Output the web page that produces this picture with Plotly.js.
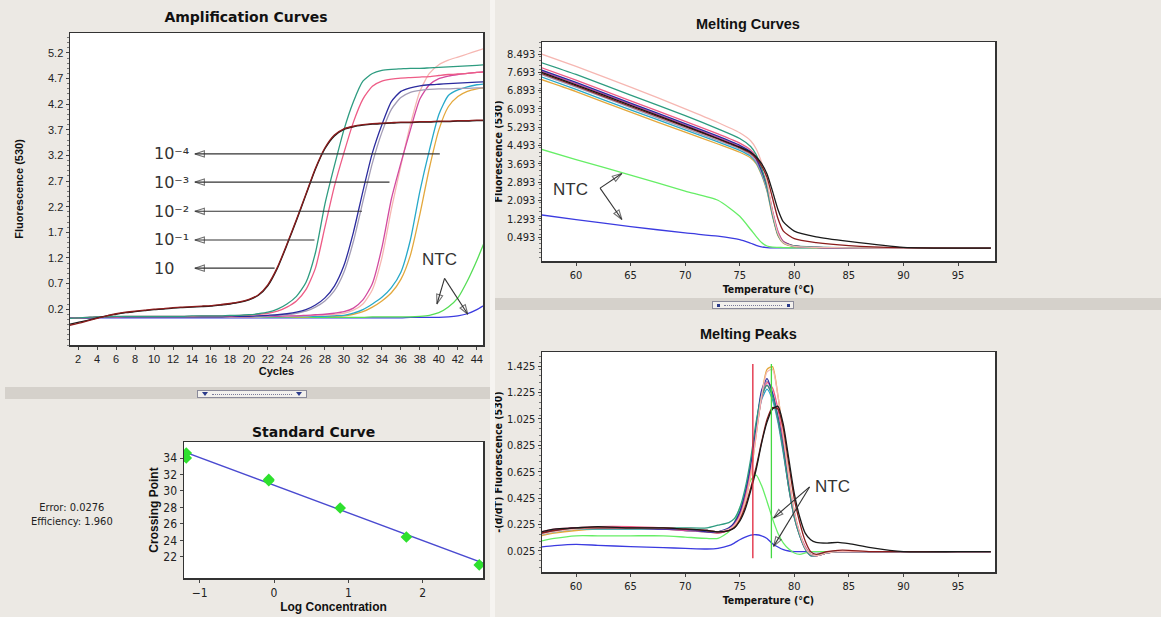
<!DOCTYPE html>
<html><head><meta charset="utf-8">
<script src="https://cdn.plot.ly/plotly-3.0.1.min.js"></script>
<style>
html,body{margin:0;padding:0;background:#ECE9E4;}
#wrap{position:relative;width:1161px;height:617px;}
#chart{width:1161px;height:617px;}
.deco{position:absolute;box-sizing:border-box;}
.bar{background:#D5D1CB;}
.vbar{background:#F6F4F1;}
.btn{background:#F2F0EC;border:1px solid #8A8A9A;}
.dots{border-top:1px dotted #7A7A9A;}
.tri{width:0;height:0;border-left:3px solid transparent;border-right:3px solid transparent;border-top:4px solid #2A3A8A;}
.sq{width:3px;height:3px;background:#2A3A8A;}
</style>
</head><body><div id="wrap"><div id="chart"></div>
<div class="deco vbar" style="left:490px;top:0;width:5px;height:617px;"></div>
<div class="deco bar" style="left:5px;top:387px;width:485px;height:12px;"></div>
<div class="deco btn" style="left:197px;top:390px;width:110px;height:8px;"></div>
<div class="deco dots" style="left:212px;top:394px;width:80px;height:1px;"></div>
<div class="deco tri" style="left:202px;top:392px;"></div>
<div class="deco tri" style="left:296px;top:392px;"></div>
<div class="deco bar" style="left:495px;top:298px;width:666px;height:12px;"></div>
<div class="deco btn" style="left:712px;top:301px;width:82px;height:8px;"></div>
<div class="deco dots" style="left:724px;top:305px;width:58px;height:1px;"></div>
<div class="deco sq" style="left:717px;top:304px;"></div>
<div class="deco sq" style="left:787px;top:304px;"></div>
</div><script>
// ---------- Amplification curves (cycles 1..45) ----------
const cycles = [1,2,3,4,5,6,7,8,9,10,11,12,13,14,15,16,17,18,19,20,21,22,23,24,25,26,27,28,29,30,31,32,33,34,35,36,37,38,39,40,41,42,43,44,45];
const ampDarkRed = [-0.12,-0.08,-0.03,0.02,0.07,0.11,0.14,0.16,0.18,0.2,0.21,0.23,0.24,0.25,0.26,0.27,0.29,0.31,0.34,0.39,0.48,0.68,1.02,1.47,1.95,2.45,2.95,3.35,3.6,3.72,3.77,3.8,3.82,3.83,3.84,3.85,3.85,3.86,3.86,3.87,3.87,3.88,3.88,3.89,3.89];
const ampBlack = [-0.1,-0.06,-0.02,0.03,0.07,0.1,0.13,0.15,0.17,0.19,0.2,0.22,0.23,0.24,0.25,0.26,0.28,0.3,0.33,0.38,0.47,0.66,1.0,1.45,1.93,2.43,2.93,3.33,3.58,3.71,3.76,3.79,3.81,3.82,3.83,3.84,3.84,3.85,3.85,3.86,3.86,3.87,3.87,3.88,3.88];
const ampTeal = [0.02,0.03,0.04,0.05,0.05,0.06,0.06,0.06,0.06,0.06,0.06,0.06,0.06,0.07,0.07,0.07,0.07,0.08,0.08,0.09,0.11,0.14,0.2,0.3,0.45,0.72,1.3,2.25,3.0,3.7,4.25,4.65,4.8,4.86,4.88,4.89,4.9,4.9,4.91,4.92,4.93,4.94,4.95,4.96,4.97];
const ampSalmon = [0.02,0.03,0.04,0.05,0.05,0.05,0.06,0.06,0.06,0.06,0.06,0.06,0.06,0.06,0.07,0.07,0.07,0.07,0.08,0.08,0.1,0.12,0.16,0.24,0.36,0.58,1.0,1.8,2.6,3.25,3.85,4.3,4.55,4.65,4.69,4.71,4.72,4.73,4.74,4.76,4.78,4.79,4.8,4.82,4.83];
const ampNavy = [0.02,0.03,0.03,0.04,0.04,0.05,0.05,0.05,0.05,0.05,0.05,0.05,0.05,0.05,0.05,0.05,0.05,0.06,0.06,0.06,0.07,0.08,0.09,0.11,0.14,0.19,0.28,0.42,0.65,1.05,1.7,2.5,3.25,3.8,4.25,4.45,4.52,4.56,4.58,4.59,4.6,4.61,4.62,4.63,4.64];
const ampGray = [0.02,0.03,0.03,0.04,0.04,0.05,0.05,0.05,0.05,0.05,0.05,0.05,0.05,0.05,0.05,0.05,0.05,0.05,0.06,0.06,0.06,0.07,0.08,0.09,0.12,0.16,0.24,0.36,0.56,0.92,1.52,2.3,3.05,3.65,4.1,4.33,4.43,4.47,4.49,4.5,4.5,4.51,4.51,4.52,4.52];
const ampMagenta = [0.02,0.03,0.03,0.04,0.04,0.04,0.05,0.05,0.05,0.05,0.05,0.05,0.05,0.05,0.05,0.05,0.05,0.05,0.05,0.05,0.06,0.06,0.06,0.07,0.07,0.08,0.09,0.1,0.12,0.15,0.22,0.38,0.7,1.4,2.35,3.05,3.7,4.3,4.58,4.7,4.75,4.78,4.8,4.82,4.84];
const ampLightPink = [0.02,0.03,0.03,0.04,0.04,0.04,0.05,0.05,0.05,0.05,0.05,0.05,0.05,0.05,0.05,0.05,0.05,0.05,0.05,0.05,0.05,0.06,0.06,0.06,0.07,0.07,0.08,0.09,0.1,0.12,0.18,0.3,0.58,1.2,2.15,3.0,3.8,4.45,4.8,4.97,5.06,5.12,5.18,5.24,5.3];
const ampCyan = [0.02,0.03,0.03,0.04,0.04,0.04,0.04,0.05,0.05,0.05,0.05,0.05,0.05,0.05,0.05,0.05,0.05,0.05,0.05,0.05,0.05,0.05,0.05,0.05,0.06,0.06,0.06,0.06,0.07,0.08,0.12,0.19,0.3,0.43,0.62,0.92,1.55,2.5,3.3,4.0,4.37,4.48,4.54,4.58,4.6];
const ampOrange = [0.02,0.03,0.03,0.04,0.04,0.04,0.04,0.04,0.05,0.05,0.05,0.05,0.05,0.05,0.05,0.05,0.05,0.05,0.05,0.05,0.05,0.05,0.05,0.05,0.05,0.05,0.06,0.06,0.06,0.07,0.1,0.15,0.24,0.36,0.52,0.78,1.25,2.05,2.95,3.7,4.15,4.35,4.45,4.5,4.53];
const ampNtcGreen = [0.02,0.03,0.03,0.04,0.04,0.04,0.04,0.04,0.04,0.04,0.04,0.04,0.04,0.04,0.04,0.04,0.04,0.04,0.04,0.04,0.04,0.04,0.04,0.04,0.04,0.04,0.04,0.04,0.04,0.04,0.04,0.04,0.05,0.05,0.05,0.05,0.05,0.06,0.08,0.13,0.24,0.42,0.75,1.15,1.6];
const ampNtcBlue = [0.03,0.03,0.03,0.03,0.03,0.03,0.03,0.03,0.03,0.03,0.03,0.03,0.03,0.03,0.03,0.03,0.03,0.03,0.03,0.03,0.03,0.03,0.03,0.03,0.03,0.03,0.03,0.03,0.03,0.03,0.03,0.03,0.03,0.03,0.03,0.03,0.04,0.04,0.04,0.04,0.05,0.07,0.11,0.19,0.3];
const ampTicksY = [0.2,0.7,1.2,1.7,2.2,2.7,3.2,3.7,4.2,4.7,5.2];
const ampTicksX = [2,4,6,8,10,12,14,16,18,20,22,24,26,28,30,32,34,36,38,40,42,44];
// dilution labels and their arrows (arrow head near label, tail at the curve)
const dilLabels = ['10⁻⁴','10⁻³','10⁻²','10⁻¹','10'];
const dilLevels = [3.23, 2.68, 2.11, 1.55, 1.0];
const dilTails = [40.1, 34.8, 31.9, 26.9, 22.7];
const dilHead = 14.3;
const dilLabelX = 9.8;
// NTC callouts: text position, arrow tail, arrow heads
const ntcAmpText = [40.1, 1.16], ntcAmpTail = [40.6, 0.8], ntcAmpHeads = [[39.8, 0.3], [43.05, 0.1]];
const ntcMeltText = [59.5, 2.59], ntcMeltTail = [62.2, 2.63], ntcMeltHeads = [[64.2, 3.27], [64.2, 1.26]];
const ntcPeakText = [83.5, 0.51], ntcPeakTail = [81.4, 0.51], ntcPeakHeads = [[78.1, 0.275], [78.1, 0.06]];

// ---------- Standard curve ----------
const stdLogConc = [-1.18,-1.18,-0.07,-0.07,0.89,1.78,2.76];
const stdCp = [34.6,34.0,31.4,31.25,27.94,24.42,21.03];
const stdFitX = [-1.22, 2.83];
const stdFitY = [34.8, 21.2];
const stdTicksY = [22,24,26,28,30,32,34];

// ---------- Melting curves ----------
const meltT = [56.8,60,65,70,73,75,76,76.5,77,77.5,78,78.5,79,80,82,85,90,98];
const meltPeach   = [8.5,7.95,7.05,6.1,5.5,5.05,4.7,4.35,3.75,2.9,1.6,0.65,0.25,0.08,0.04,0.02,0.01,0.01];
const meltTeal    = [8.12,7.6,6.7,5.8,5.22,4.8,4.45,4.1,3.5,2.7,1.5,0.6,0.25,0.1,0.05,0.03,0.02,0.02];
const meltSalmon  = [7.9,7.35,6.45,5.55,5.0,4.6,4.3,4.0,3.45,2.75,1.6,0.7,0.3,0.1,0.04,0.02,0.01,0.01];
const meltNavy    = [7.8,7.25,6.35,5.45,4.9,4.5,4.22,3.92,3.4,2.7,1.55,0.65,0.28,0.09,0.04,0.02,0.01,0.01];
const meltMagenta = [7.75,7.2,6.3,5.4,4.85,4.45,4.18,3.9,3.4,2.75,1.65,0.75,0.3,0.1,0.04,0.02,0.01,0.01];
const meltDarkRed = [7.65,7.1,6.2,5.32,4.78,4.4,4.15,3.95,3.6,3.1,2.2,1.3,0.75,0.42,0.25,0.12,0.03,0.01];
const meltBlack   = [7.7,7.15,6.25,5.35,4.8,4.42,4.2,4.0,3.7,3.25,2.5,1.7,1.15,0.75,0.5,0.3,0.04,0.01];
const meltGray    = [7.6,7.05,6.15,5.25,4.72,4.35,4.08,3.8,3.3,2.6,1.5,0.65,0.28,0.09,0.04,0.02,0.01,0.01];
const meltCyan    = [7.5,6.95,6.05,5.18,4.65,4.28,4.02,3.75,3.25,2.55,1.45,0.6,0.25,0.08,0.04,0.02,0.01,0.01];
const meltOrange  = [7.38,6.85,5.95,5.08,4.56,4.2,3.95,3.7,3.2,2.5,1.4,0.55,0.22,0.07,0.03,0.02,0.01,0.01];
const meltNtcGreen= [4.33,3.88,3.2,2.5,2.1,1.4,0.82,0.52,0.25,0.1,0.05,0.04,0.03,0.02,0.02,0.02,0.02,0.02];
const meltNtcBlue = [1.46,1.25,0.95,0.67,0.53,0.38,0.22,0.13,0.06,0.03,0.02,0.02,0.02,0.02,0.02,0.02,0.02,0.02];
const meltTicks = [0.493,1.293,2.093,2.893,3.693,4.493,5.293,6.093,6.893,7.693,8.493];

// ---------- Melting peaks ----------
const peakT = [56.8,58,60,62,65,68,70,72,73,74,74.5,75,75.5,76,76.5,77,77.5,78,78.5,79,79.5,80,80.5,81,81.5,82,83,84,85,87,90,95,98];
const pkNavy    = [0.16,0.18,0.2,0.2,0.2,0.19,0.19,0.17,0.17,0.2,0.24,0.32,0.47,0.68,0.97,1.24,1.33,1.22,1.04,0.8,0.52,0.3,0.15,0.05,0.0,-0.01,0.01,0.02,0.02,0.02,0.02,0.02,0.02];
const pkTeal    = [0.15,0.17,0.19,0.2,0.2,0.2,0.2,0.2,0.22,0.24,0.27,0.35,0.5,0.72,1.0,1.2,1.28,1.2,1.02,0.78,0.5,0.28,0.14,0.04,-0.01,-0.01,0.01,0.02,0.02,0.02,0.02,0.02,0.02];
const pkSalmon  = [0.17,0.19,0.2,0.21,0.21,0.2,0.19,0.18,0.17,0.19,0.23,0.3,0.44,0.64,0.92,1.18,1.3,1.26,1.1,0.85,0.56,0.32,0.16,0.06,0.0,-0.01,0.01,0.02,0.02,0.02,0.02,0.02,0.02];
const pkMagenta = [0.16,0.18,0.2,0.2,0.2,0.19,0.18,0.17,0.16,0.18,0.22,0.3,0.45,0.66,0.95,1.2,1.28,1.2,1.02,0.78,0.5,0.28,0.14,0.04,-0.01,-0.01,0.01,0.02,0.02,0.02,0.02,0.02,0.02];
const pkPeach   = [0.15,0.17,0.19,0.2,0.2,0.2,0.19,0.18,0.17,0.19,0.22,0.28,0.4,0.6,0.9,1.2,1.38,1.4,1.2,0.9,0.58,0.32,0.16,0.05,0.0,-0.01,0.01,0.02,0.02,0.02,0.02,0.02,0.02];
const pkOrange  = [0.14,0.16,0.18,0.19,0.19,0.19,0.18,0.17,0.16,0.18,0.21,0.27,0.4,0.6,0.9,1.2,1.4,1.42,1.2,0.9,0.58,0.32,0.15,0.05,0.0,-0.01,0.01,0.02,0.02,0.02,0.02,0.02,0.02];
const pkCyan    = [0.15,0.17,0.19,0.19,0.19,0.19,0.18,0.17,0.17,0.19,0.23,0.31,0.46,0.66,0.94,1.17,1.25,1.17,1.0,0.76,0.5,0.28,0.14,0.04,-0.01,-0.01,0.01,0.02,0.02,0.02,0.02,0.02,0.02];
const pkGray    = [0.16,0.18,0.2,0.2,0.2,0.19,0.19,0.18,0.17,0.19,0.23,0.31,0.46,0.67,0.96,1.22,1.31,1.22,1.03,0.79,0.51,0.29,0.15,0.05,0.0,-0.01,0.01,0.02,0.02,0.02,0.02,0.02,0.02];
const pkDarkRed = [0.16,0.18,0.2,0.2,0.2,0.2,0.19,0.18,0.17,0.18,0.2,0.26,0.36,0.5,0.66,0.85,1.02,1.11,1.1,0.95,0.68,0.42,0.24,0.1,0.02,0.0,0.02,0.03,0.03,0.02,0.02,0.02,0.02];
const pkBlack   = [0.17,0.19,0.2,0.21,0.2,0.2,0.19,0.18,0.17,0.18,0.2,0.25,0.34,0.48,0.64,0.84,1.0,1.1,1.12,0.98,0.72,0.46,0.28,0.16,0.11,0.09,0.085,0.09,0.08,0.05,0.02,0.02,0.02];
const pkNtcGreen= [0.1,0.12,0.14,0.14,0.14,0.14,0.13,0.12,0.12,0.17,0.24,0.35,0.45,0.56,0.6,0.52,0.4,0.27,0.16,0.085,0.04,0.01,0.0,0.01,0.02,0.02,0.02,0.02,0.02,0.02,0.02,0.02,0.02];
const pkNtcBlue = [0.055,0.065,0.075,0.068,0.058,0.05,0.045,0.04,0.045,0.065,0.085,0.11,0.13,0.145,0.148,0.14,0.12,0.08,0.055,0.035,0.025,0.02,0.02,0.02,0.02,0.02,0.02,0.02,0.02,0.02,0.02,0.02,0.02];
const tmRedX = [76.2, 76.2];
const tmGreenX = [77.9, 77.9];
const tmY = [-0.03, 1.44];
const peakTicks = [0.025,0.225,0.425,0.625,0.825,1.025,1.225,1.425];

// ---------- colours ----------
const C = {darkRed:'#8B1C1C', black:'#1A1A1A', teal:'#2E9C80', salmon:'#EE5C86', navy:'#2B2B9E',
  gray:'#A39CB5', magenta:'#D24AA0', lightPink:'#F6B7B2', cyan:'#27A9C9', orange:'#E3A83C',
  ntcGreen:'#55DD55', ntcBlue:'#3B3BE0'};

const traces = [];
function ln(x, y, color, xa, ya, shape, w){
  traces.push({x:x, y:y, type:'scatter', mode:'lines', xaxis:xa, yaxis:ya,
    line:{color:color, width:w||1.3, shape:shape||'linear', smoothing:0.6}, hoverinfo:'skip'});
}
function arrowTrace(xa, ya, tail, head){
  traces.push({x:[tail[0], head[0]], y:[tail[1], head[1]], type:'scatter', mode:'lines+markers', xaxis:xa, yaxis:ya,
    line:{color:'#333', width:1.1}, cliponaxis:false,
    marker:{symbol:'arrow-open', angleref:'previous', size:[0, 10], color:'#333', line:{color:'#333', width:1.1}},
    hoverinfo:'skip'});
}
// amplification
[[ampNtcBlue,C.ntcBlue],[ampNtcGreen,C.ntcGreen],[ampOrange,C.orange],[ampCyan,C.cyan],[ampLightPink,C.lightPink],
 [ampMagenta,C.magenta],[ampGray,C.gray],[ampNavy,C.navy],[ampSalmon,C.salmon],[ampTeal,C.teal],
 [ampBlack,C.black],[ampDarkRed,C.darkRed]].forEach(p=>ln(cycles,p[0],p[1],'x','y','spline'));
dilLevels.forEach((lv, i) => arrowTrace('x','y',[dilTails[i], lv],[dilHead, lv]));
ntcAmpHeads.forEach(h => arrowTrace('x','y', ntcAmpTail, h));
// standard curve
ln(stdFitX, stdFitY, '#4A4AD0', 'x2', 'y2', 'linear', 1.4);
traces.push({x:stdLogConc, y:stdCp, type:'scatter', mode:'markers', xaxis:'x2', yaxis:'y2',
  marker:{symbol:'diamond', size:9, color:'#2EE02E'}, hoverinfo:'skip'});
// melting curves
[[meltNtcBlue,C.ntcBlue],[meltNtcGreen,'#66EE66'],[meltOrange,C.orange],[meltCyan,C.cyan],[meltGray,C.gray],
 [meltMagenta,C.magenta],[meltSalmon,C.salmon],[meltNavy,C.navy],[meltTeal,C.teal],[meltPeach,C.lightPink],
 [meltDarkRed,C.darkRed],[meltBlack,C.black]].forEach(p=>ln(meltT,p[0],p[1],'x3','y3','spline'));
ntcMeltHeads.forEach(h => arrowTrace('x3','y3', ntcMeltTail, h));
// melting peaks
[[pkNtcBlue,C.ntcBlue],[pkNtcGreen,'#66EE66'],[pkOrange,C.orange],[pkCyan,C.cyan],[pkGray,C.gray],
 [pkMagenta,C.magenta],[pkSalmon,C.salmon],[pkNavy,C.navy],[pkTeal,C.teal],[pkPeach,C.lightPink],
 [pkDarkRed,C.darkRed],[pkBlack,C.black]].forEach(p=>ln(peakT,p[0],p[1],'x4','y4','spline'));
ln(tmRedX, tmY, '#E0243C', 'x4', 'y4', 'linear', 1.3);
ln(tmGreenX, tmY, '#44D844', 'x4', 'y4', 'linear', 1.3);
ntcPeakHeads.forEach(h => arrowTrace('x4','y4', ntcPeakTail, h));

// ---------- layout helpers ----------
const W = 1161, H = 617;
const PX = v => v / W, PY = v => 1 - v / H;
const COND = 'DejaVu Sans Condensed, Liberation Sans Narrow, Arial Narrow, sans-serif';
const tickFont = {family:'Liberation Sans, Arial, sans-serif', size:11, color:'#222'};
const narrowFont = {family:COND, size:11, color:'#222'};
const axTitleFont = {family:'Liberation Sans, Arial, sans-serif', size:11, color:'#111'};
const axTitleNarrow = {family:COND, size:10.5, color:'#111'};
function ax(extra){
  return Object.assign({showline:true, mirror:true, linecolor:'#333', linewidth:1.5, ticks:'outside', ticklen:3,
    tickcolor:'#444', showgrid:false, zeroline:false, tickfont:tickFont, fixedrange:true}, extra);
}
const ann = [];
function txt(x, y, text, font, extra){
  ann.push(Object.assign({xref:'paper', yref:'paper', x:PX(x), y:PY(y), text:text, showarrow:false,
    xanchor:'center', yanchor:'middle', font:font}, extra||{}));
}
const titleFont = {family:'DejaVu Sans, Verdana, sans-serif', size:14, color:'#111'};
const titleNarrow = {family:'Liberation Sans, Arial, sans-serif', size:14.5, color:'#111'};
txt(313, 432, '<b>Standard Curve</b>', titleFont);
txt(748, 24, '<b>Melting Curves</b>', titleNarrow);
txt(748, 334, '<b>Melting Peaks</b>', titleNarrow);
txt(72, 514, 'Error: 0.0276<br>Efficiency: 1.960', {family:COND, size:11, color:'#222'});

const labelFont = {family:'DejaVu Sans, Liberation Sans, sans-serif', size:16, color:'#333'};
dilLabels.forEach((lab, i) => {
  ann.push({xref:'x', yref:'y', x:dilLabelX, y:dilLevels[i], text:lab, showarrow:false, xanchor:'left', yanchor:'middle', font:labelFont});
});
const ntcFont = {family:'Liberation Sans, Arial, sans-serif', size:17, color:'#333'};
ann.push({xref:'x', yref:'y', x:ntcAmpText[0], y:ntcAmpText[1], text:'NTC', showarrow:false, font:ntcFont});
ann.push({xref:'x3', yref:'y3', x:ntcMeltText[0], y:ntcMeltText[1], text:'NTC', showarrow:false, font:ntcFont});
ann.push({xref:'x4', yref:'y4', x:ntcPeakText[0], y:ntcPeakText[1], text:'NTC', showarrow:false, font:ntcFont});

const layout = {
  width:W, height:H, margin:{l:0,r:0,t:0,b:0}, showlegend:false,
  paper_bgcolor:'#ECE9E4', plot_bgcolor:'#FFFFFF', hovermode:false,
  title:{text:'<b>Amplification Curves</b>', font:titleFont, x:PX(246), xanchor:'center', xref:'paper',
    y:PY(17), yanchor:'middle', yref:'paper'},
  xaxis: ax({domain:[PX(70),PX(483)], range:[1.15,44.65], tickvals:ampTicksX, anchor:'y',
    title:{text:'<b>Cycles</b>', font:axTitleFont, standoff:3}}),
  yaxis: ax({domain:[PY(345),PY(33)], range:[-0.5,5.59], tickvals:ampTicksY, tickformat:'.1f', anchor:'x',
    minor:{ticks:'outside', ticklen:2, dtick:0.1, tickcolor:'#777'},
    title:{text:'<b>Fluorescence (530)</b>', font:axTitleFont, standoff:22}}),
  xaxis2: ax({domain:[PX(184),PX(483)], range:[-1.21,2.81], dtick:1, anchor:'y2', tickfont:{family:COND, size:12, color:'#222'},
    title:{text:'<b>Log Concentration</b>', font:{family:'Liberation Sans, Arial', size:12, color:'#111'}, standoff:2}}),
  yaxis2: ax({domain:[PY(578),PY(442)], range:[19.45,35.94], tickvals:stdTicksY, anchor:'x2',
    tickfont:{family:COND, size:12, color:'#222'},
    title:{text:'<b>Crossing Point</b>', font:{family:'Liberation Sans, Arial', size:12, color:'#111'}, standoff:2}}),
  xaxis3: ax({domain:[PX(542),PX(995)], range:[56.88,98.39], dtick:5, anchor:'y3', tickfont:narrowFont,
    title:{text:'<b>Temperature (°C)</b>', font:axTitleNarrow, standoff:5}}),
  yaxis3: ax({domain:[PY(261),PY(42)], range:[-0.556,9.02], tickvals:meltTicks, ticktext:meltTicks.map(v=>v.toFixed(3)),
    anchor:'x3', tickfont:narrowFont, minor:{ticks:'outside', ticklen:2, dtick:0.2, tickcolor:'#777'},
    title:{text:'<b>Fluorescence (530)</b>', font:axTitleNarrow, standoff:2}}),
  xaxis4: ax({domain:[PX(542),PX(995)], range:[56.88,98.39], dtick:5, anchor:'y4', tickfont:narrowFont,
    title:{text:'<b>Temperature (°C)</b>', font:axTitleNarrow, standoff:5}}),
  yaxis4: ax({domain:[PY(572),PY(352)], range:[-0.134,1.531], tickvals:peakTicks, ticktext:peakTicks.map(v=>v.toFixed(3)),
    anchor:'x4', tickfont:narrowFont, minor:{ticks:'outside', ticklen:2, dtick:0.05, tickcolor:'#777'},
    title:{text:'<b>-(d/dT) Fluorescence (530)</b>', font:axTitleNarrow, standoff:2}}),
  annotations: ann
};
Plotly.newPlot('chart', traces, layout, {staticPlot:true, displayModeBar:false});
</script></body></html>
